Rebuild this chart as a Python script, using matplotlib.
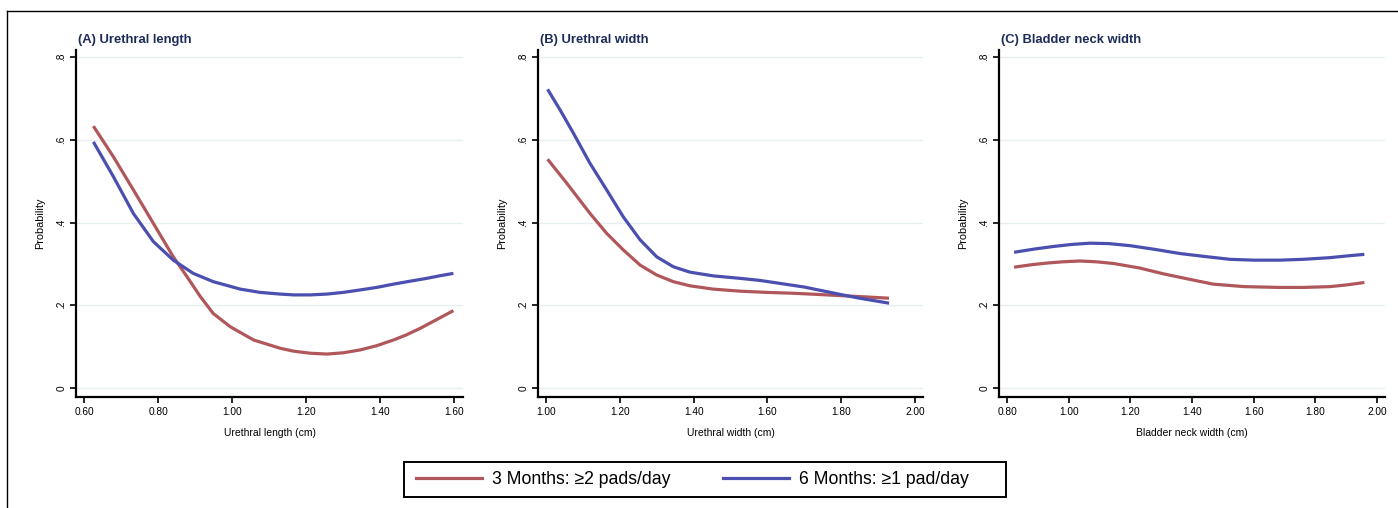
import matplotlib
matplotlib.use("Agg")
import matplotlib.pyplot as plt
from matplotlib.lines import Line2D
from matplotlib.patches import Rectangle

plt.rcParams['font.family'] = ['Liberation Sans', 'DejaVu Sans']

series_labels = ["3 Months: \u22652 pads/day", "6 Months: \u22651 pad/day"]
titles = ["(A) Urethral length", "(B) Urethral width", "(C) Bladder neck width"]
xlabels = ["Urethral length (cm)", "Urethral width (cm)", "Bladder neck width (cm)"]

# Panel A
a_x_red = [0.625, 0.679, 0.733, 0.787, 0.841, 0.878, 0.914, 0.949, 0.995, 1.058, 1.130, 1.166,
           1.211, 1.256, 1.30, 1.346, 1.39, 1.436, 1.47, 1.508, 1.55, 1.598]
a_y_red = [0.633, 0.559, 0.479, 0.398, 0.317, 0.269, 0.221, 0.180, 0.148, 0.116, 0.096, 0.089,
           0.084, 0.082, 0.085, 0.092, 0.102, 0.116, 0.128, 0.144, 0.164, 0.187]
a_x_blue = [0.625, 0.679, 0.733, 0.787, 0.841, 0.895, 0.949, 1.022, 1.076, 1.130, 1.166, 1.211,
            1.256, 1.30, 1.346, 1.39, 1.436, 1.48, 1.526, 1.56, 1.598]
a_y_blue = [0.595, 0.511, 0.422, 0.354, 0.309, 0.277, 0.257, 0.239, 0.231, 0.227, 0.225, 0.225,
            0.227, 0.231, 0.237, 0.243, 0.251, 0.258, 0.265, 0.271, 0.277]

# Panel B
b_x_red = [1.004, 1.056, 1.119, 1.164, 1.209, 1.255, 1.300, 1.345, 1.390, 1.453, 1.526, 1.60,
           1.67, 1.74, 1.805, 1.87, 1.93]
b_y_red = [0.553, 0.495, 0.422, 0.374, 0.334, 0.297, 0.273, 0.257, 0.247, 0.239, 0.234, 0.231,
           0.229, 0.226, 0.223, 0.220, 0.217]
b_x_blue = [1.004, 1.038, 1.074, 1.119, 1.164, 1.209, 1.255, 1.300, 1.345, 1.390, 1.453, 1.526,
            1.58, 1.625, 1.70, 1.76, 1.81, 1.85, 1.89, 1.93]
b_y_blue = [0.722, 0.672, 0.616, 0.543, 0.479, 0.414, 0.358, 0.317, 0.293, 0.280, 0.271, 0.265,
            0.260, 0.254, 0.244, 0.233, 0.224, 0.217, 0.211, 0.205]

# Panel C
c_x_red = [0.823, 0.88, 0.93, 0.98, 1.037, 1.09, 1.145, 1.23, 1.307, 1.39, 1.469, 1.57, 1.685,
           1.76, 1.847, 1.90, 1.959]
c_y_red = [0.292, 0.298, 0.302, 0.305, 0.307, 0.305, 0.301, 0.290, 0.276, 0.263, 0.251, 0.245,
           0.243, 0.243, 0.245, 0.249, 0.255]
c_x_blue = [0.823, 0.89, 0.95, 1.01, 1.069, 1.13, 1.199, 1.28, 1.361, 1.44, 1.523, 1.60, 1.685,
            1.76, 1.847, 1.90, 1.959]
c_y_blue = [0.328, 0.336, 0.342, 0.347, 0.350, 0.349, 0.344, 0.335, 0.325, 0.318, 0.311, 0.309,
            0.309, 0.311, 0.315, 0.319, 0.323]

yticks = [0, 0.2, 0.4, 0.6, 0.8]
ytick_labels = ["0", ".2", ".4", ".6", ".8"]
a_xticks = [0.60, 0.80, 1.00, 1.20, 1.40, 1.60]
b_xticks = [1.00, 1.20, 1.40, 1.60, 1.80, 2.00]
c_xticks = [0.80, 1.00, 1.20, 1.40, 1.60, 1.80, 2.00]

RED = "#b0575b"
BLUE = "#4a4fb0"
TITLE_C = "#1c2b5a"
GRID_C = "#e6f0f3"

W, H = 1398, 508
fig = plt.figure(figsize=(W / 100, H / 100), dpi=100)

# outer frame (top and left edges visible)
fig.add_artist(Line2D([7 / W, 7 / W], [0, 1 - 11 / H], transform=fig.transFigure, color="black", lw=1.0))
fig.add_artist(Line2D([7 / W, 1], [1 - 11 / H, 1 - 11 / H], transform=fig.transFigure, color="black", lw=1.0))

panels = [
    (76, 463, a_x_red, a_y_red, a_x_blue, a_y_blue, a_xticks, (0.578, 1.624)),
    (538, 923, b_x_red, b_y_red, b_x_blue, b_y_blue, b_xticks, (0.978, 2.022)),
    (999, 1385, c_x_red, c_y_red, c_x_blue, c_y_blue, c_xticks, (0.774, 2.026)),
]
top, bottom = 50, 397
for i, (l, r, xr, yr, xb, yb, xt, xlim) in enumerate(panels):
    ax = fig.add_axes([l / W, 1 - bottom / H, (r - l) / W, (bottom - top) / H])
    for y in yticks:
        ax.axhline(y, color=GRID_C, lw=1.0, zorder=0)
    ax.plot(xr, yr, color=RED, lw=2.3, solid_capstyle="butt", solid_joinstyle="round", zorder=3)
    ax.plot(xb, yb, color=BLUE, lw=2.3, solid_capstyle="butt", solid_joinstyle="round", zorder=3)
    ax.set_xlim(*xlim)
    ax.set_ylim(-0.0218, 0.817)
    ax.set_yticks(yticks)
    ax.set_yticklabels(ytick_labels, rotation=90, va="center")
    ax.set_xticks(xt)
    ax.set_xticklabels(["%.2f" % v for v in xt])
    for s in ["top", "right"]:
        ax.spines[s].set_visible(False)
    for s in ["left", "bottom"]:
        ax.spines[s].set_linewidth(1.6)
    ax.tick_params(axis="both", length=4, width=1.2, labelsize=7.3, color="black", pad=3)
    ax.set_ylabel("Probability", fontsize=7.8, labelpad=8)
    ax.set_xlabel(xlabels[i], fontsize=7.5, labelpad=8)
    ax.text(0.005, 1.012, titles[i], transform=ax.transAxes, fontsize=9.4, fontweight="bold",
            color=TITLE_C, ha="left", va="bottom")

# legend box
fig.add_artist(Rectangle((404 / W, 1 - 497 / H), (1006 - 404) / W, 35 / H, transform=fig.transFigure,
                         fill=False, edgecolor="black", lw=1.4))
handles = [Line2D([], [], color=RED, lw=2.3), Line2D([], [], color=BLUE, lw=2.3)]
leg = fig.legend(handles, series_labels, loc="center left", bbox_to_anchor=(416 / W, 1 - 479.5 / H),
                 ncol=2, frameon=False, fontsize=12.7, handlelength=3.75, columnspacing=3.0,
                 handletextpad=0.55, borderpad=0, borderaxespad=0)

fig.savefig("out.png", dpi=100, facecolor="white")
